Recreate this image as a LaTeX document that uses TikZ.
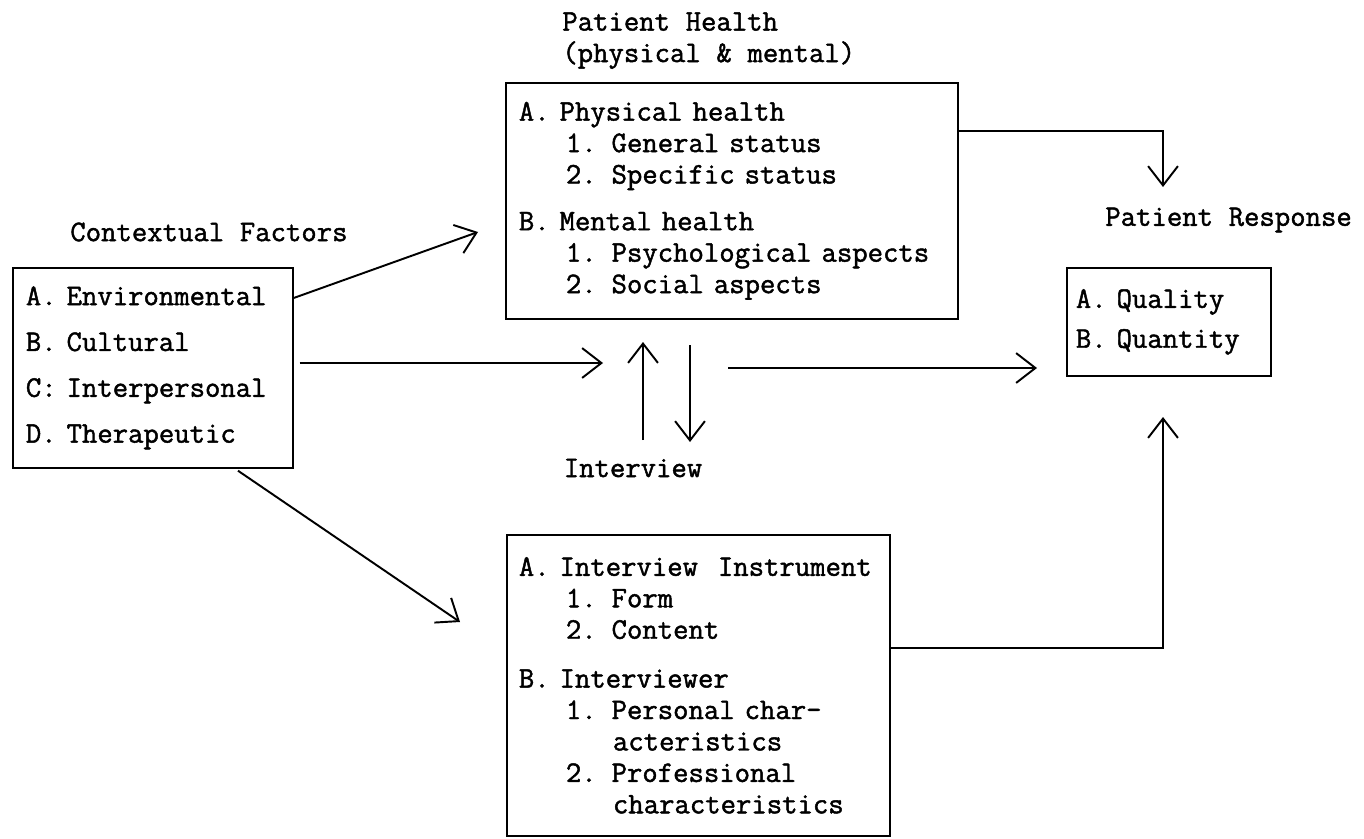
\documentclass[tikz,border=0pt]{standalone}
\usepackage{fontspec}
\setmonofont{Latin Modern Mono}[FakeBold=1.5]
\usepackage{tikz}
\usetikzlibrary{arrows.meta}
\usetikzlibrary{calc}

\newcommand{\indt}{\hspace*{1.575em}}
\newcommand{\typefont}{\ttfamily\fontsize{17}{17.9}\selectfont
        \fontdimen2\font=0.525em\fontdimen3\font=0pt\fontdimen4\font=0pt}

\begin{document}
\begin{tikzpicture}[x=0.02cm, y=-0.02cm,
        txt/.style={font=\typefont, inner sep=0pt},
        box/.style={txt, draw, line width=1pt, align=left, anchor=north west},
        arr/.style={line width=1.1pt, -{Straight Barb[length=11pt, width=17pt]}}]
        \useasboundingbox (0,0) rectangle (1364,838);

        \node[box, inner xsep=0.26cm, text width=5.08cm, minimum height=4cm] (ctx) at (12,267) {A. Environmental\\[8.2pt] B. Cultural\\[8.2pt] C: Interpersonal\\[8.2pt] D. Therapeutic};
        \node[box, inner xsep=0.26cm, text width=8.52cm, minimum height=4.72cm] (ph) at (505,82) {A. Physical health\\ \indt 1. General status\\ \indt 2. Specific status\\[8.7pt] B. Mental health\\ \indt 1. Psychological aspects\\ \indt 2. Social aspects};
        \node[box, inner xsep=0.18cm, text width=3.72cm, minimum height=2.16cm] (pr) at (1066,267) {A. Quality\\[4.8pt] B. Quantity};
        \node[box, inner xsep=0.24cm, text width=7.18cm, minimum height=6.02cm] (iv) at (506,534) {\mbox{A. Interview~~Instrument}\\ \indt 1. Form\\ \indt 2. Content\\[9.9pt] B. Interviewer\\ \indt 1. Personal char-\\ \indt\indt acteristics\\ \indt 2. Professional\\ \indt\indt characteristics};

        \node[txt, anchor=west] (ctxlbl) at (70,232) {Contextual Factors};
        \node[txt, anchor=north west, align=left] (phlbl) at (562,12) {Patient Health\\(physical \& mental)};
        \node[txt, anchor=west] (prlbl) at (1105,220) {Patient Response};
        \node[txt] (ivlbl) at (633,468) {Interview};

        \coordinate (phin) at (478,232);
        \coordinate (mid) at (603,363);
        \coordinate (upbot) at (643,440);
        \coordinate (uptop) at (643,342);
        \coordinate (dntop) at (690,345);
        \coordinate (dnbot) at (690,442);
        \coordinate (rsp) at (728,368);
        \coordinate (rsptip) at (1037,368);
        \coordinate (prtop) at (1163,187);
        \coordinate (prbot) at (1163,417);
        \coordinate (ivin) at (460,622);

        \draw[arr] ($(ctx.north east)+(0,31)$) -- (phin);
        \draw[arr] ($(ctx.north east)+(6,96)$) -- (mid);
        \draw[arr] (upbot) -- (uptop);
        \draw[arr] (dntop) -- (dnbot);
        \draw[arr] (rsp) -- (rsptip);
        \draw[arr] ($(ph.north east)+(0,49)$) -| (prtop);
        \draw[arr] ($(iv.north east)+(0,114)$) -| (prbot);
        \draw[arr] ($(ctx.south west)+(226,2)$) -- (ivin);
    \end{tikzpicture}
\end{document}
